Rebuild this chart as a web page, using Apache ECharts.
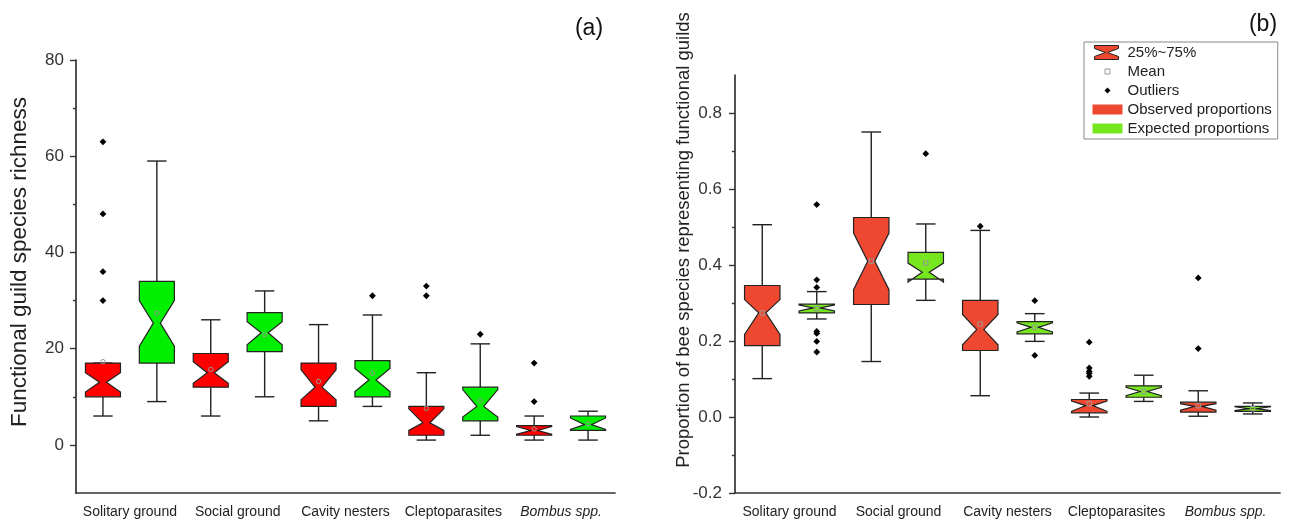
<!DOCTYPE html>
<html>
<head>
<meta charset="utf-8">
<script src="https://cdn.jsdelivr.net/npm/echarts@6/dist/echarts.min.js"></script>
<style>html,body{margin:0;padding:0;background:#fff;}#c{width:1298px;height:522px;}</style>
</head>
<body>
<div id="c"></div>
<script>
// ---------- DATA ----------
const categories = ['Solitary ground', 'Social ground', 'Cavity nesters', 'Cleptoparasites', 'Bombus spp.'];

// Panel (a): functional guild species richness
const richYTicks = [0, 20, 40, 60, 80];
const richObsLow    = [6, 6, 5, 1, 1];
const richObsQ1     = [10, 12, 8, 2, 2];
const richObsMed    = [13, 15, 12, 4.6, 3];
const richObsQ3     = [17, 19, 17, 8, 4];
const richObsHigh   = [17, 26, 25, 15, 6];
const richObsNotchLo = [11, 12.8, 9.4, 3, 2.2];
const richObsNotchHi = [15, 17.3, 15.6, 7.5, 3.8];
const richObsMean   = [17.3, 15.7, 13.2, 7.6, 3.3];
const richObsOut    = [[63, 48, 36, 30], [], [], [33, 31], [17, 9]];

const richExpLow    = [9, 10, 8, 2, 1];
const richExpQ1     = [17, 19.4, 10, 5, 3];
const richExpMed    = [25.3, 23.3, 13.5, 8, 4.2];
const richExpQ3     = [34, 27.5, 17.5, 12, 6];
const richExpHigh   = [59, 32, 27, 21, 7];
const richExpNotchLo = [20.5, 20.8, 11.1, 5.8, 3.2];
const richExpNotchHi = [30, 25.6, 15.9, 11.5, 5.6];
const richExpMean   = [27.4, 22.9, 14.9, 9.2, 4.4];
const richExpOut    = [[], [], [31], [23], []];

// Panel (b): proportion of bee species
const propYTicks = [-0.2, 0, 0.2, 0.4, 0.6, 0.8];
const propObsLow    = [0.101, 0.146, 0.056, 0.0, 0.002];
const propObsQ1     = [0.188, 0.296, 0.175, 0.011, 0.013];
const propObsMed    = [0.274, 0.41, 0.23, 0.03, 0.028];
const propObsQ3     = [0.346, 0.525, 0.307, 0.046, 0.039];
const propObsHigh   = [0.506, 0.75, 0.491, 0.063, 0.069];
const propObsNotchLo = [0.217, 0.335, 0.19, 0.015, 0.018];
const propObsNotchHi = [0.309, 0.484, 0.27, 0.042, 0.035];
const propObsMean   = [0.274, 0.41, 0.245, 0.035, 0.03];
const propObsOut    = [[], [], [0.502], [0.197, 0.129, 0.12, 0.115, 0.107], [0.366, 0.18]];

const propExpLow    = [0.258, 0.307, 0.199, 0.041, 0.008];
const propExpQ1     = [0.274, 0.363, 0.219, 0.052, 0.015];
const propExpMed    = [0.287, 0.381, 0.236, 0.067, 0.022];
const propExpQ3     = [0.297, 0.433, 0.251, 0.082, 0.028];
const propExpHigh   = [0.33, 0.508, 0.272, 0.11, 0.037];
const propExpNotchLo = [0.279, 0.355, 0.224, 0.056, 0.017];
const propExpNotchHi = [0.295, 0.405, 0.248, 0.078, 0.027];
const propExpMean   = [0.285, 0.405, 0.236, 0.067, 0.022];
const propExpOut    = [[0.559, 0.361, 0.341, 0.225, 0.22, 0.199, 0.171], [0.693], [0.306, 0.162], [], []];

// ---------- STYLE ----------
const FONT = '"Liberation Sans", Arial, Helvetica, sans-serif';
const RED_A = '#FF0000', GREEN_A = '#00F000';
const RED_B = '#EE4830', GREEN_B = '#76E61E';
const INK = '#222';
const AXIS = '#333';

function boxData(low, q1, med, q3, high, nlo, nhi) {
  return categories.map((c, i) => [i, low[i], q1[i], med[i], q3[i], high[i], nlo[i], nhi[i]]);
}
function meanData(arr, side) { return arr.map((v, i) => [i, v, side]); }
function outData(arr, side) {
  const d = [];
  arr.forEach((list, i) => list.forEach(v => d.push([i, v, side])));
  return d;
}

function boxRender(color, side) {
  return function (params, api) {
    const i = api.value(0);
    const bw = api.size([1, 0])[0];
    const cx = api.coord([i, 0])[0] + side * bw / 4;
    const w = bw * 0.325, cap = bw * 0.18, waist = w * 0.1;
    const y = v => api.coord([i, v])[1];
    const yl = y(api.value(1)), yq1 = y(api.value(2)), ym = y(api.value(3)),
          yq3 = y(api.value(4)), yh = y(api.value(5)), ynl = y(api.value(6)), ynh = y(api.value(7));
    const xl = cx - w / 2, xr = cx + w / 2;
    const ls = { stroke: INK, lineWidth: 1.4 };
    return {
      type: 'group',
      children: [
        { type: 'line', shape: { x1: cx, y1: yh, x2: cx, y2: yq3 }, style: ls },
        { type: 'line', shape: { x1: cx, y1: yq1, x2: cx, y2: yl }, style: ls },
        { type: 'line', shape: { x1: cx - cap / 2, y1: yh, x2: cx + cap / 2, y2: yh }, style: ls },
        { type: 'line', shape: { x1: cx - cap / 2, y1: yl, x2: cx + cap / 2, y2: yl }, style: ls },
        {
          type: 'polygon',
          shape: { points: [[xl, yq3], [xl, ynh], [cx - waist, ym], [xl, ynl], [xl, yq1], [xr, yq1], [xr, ynl], [cx + waist, ym], [xr, ynh], [xr, yq3]] },
          style: { fill: color, stroke: INK, lineWidth: 1.2 }
        }
      ]
    };
  };
}
function meanRender(shape) {
  return function (params, api) {
    const i = api.value(0);
    const bw = api.size([1, 0])[0];
    const p = api.coord([i, api.value(1)]);
    const cx = p[0] + api.value(2) * bw / 4;
    if (shape === 'circle') {
      return { type: 'circle', shape: { cx: cx, cy: p[1], r: 2.2 }, style: { fill: 'none', stroke: '#999', lineWidth: 1 } };
    }
    return { type: 'rect', shape: { x: cx - 2.2, y: p[1] - 2.2, width: 4.4, height: 4.4 }, style: { fill: 'none', stroke: '#999', lineWidth: 1 } };
  };
}
function outRender(params, api) {
  const i = api.value(0);
  const bw = api.size([1, 0])[0];
  const p = api.coord([i, api.value(1)]);
  const cx = p[0] + api.value(2) * bw / 4, cy = p[1], r = 3.4;
  return { type: 'polygon', shape: { points: [[cx, cy - r], [cx + r, cy], [cx, cy + r], [cx - r, cy]] }, style: { fill: '#000' } };
}

// ---------- LAYOUT (grids) ----------
// panel a: frame grid 0 (y -10..80), tick grid 1 (y 0..80)
// panel b: frame grid 2 (y -0.2..0.9), tick grid 3 (y -0.2..0.8)
const A = { left: 76, top: 60, width: 539, height: 433 };
const B = { left: 735, top: 75, width: 545, height: 418 };
const aTickH = A.height * 80 / 90;
const bTickH = B.height * 1.0 / 1.1;

const catAxis = (gi) => ({
  type: 'category', gridIndex: gi, data: categories.map(c => c === 'Bombus spp.' ? { value: c, textStyle: { fontStyle: 'italic' } } : c),
  boundaryGap: true,
  axisLine: { show: true, onZero: false, lineStyle: { color: AXIS, width: 1.7 } },
  axisTick: { show: false },
  axisLabel: { fontFamily: FONT, fontSize: 14, color: INK, margin: 12, interval: 0 },
  splitLine: { show: false }
});
const hiddenX = (gi) => ({ type: 'category', gridIndex: gi, data: categories, show: false });

const option = {
  animation: false,
  backgroundColor: '#fff',
  grid: [
    { left: A.left, top: A.top, width: A.width, height: A.height, containLabel: false, outerBoundsMode: 'none' },
    { left: A.left, top: A.top, width: A.width, height: aTickH, containLabel: false, outerBoundsMode: 'none' },
    { left: B.left, top: B.top, width: B.width, height: B.height, containLabel: false, outerBoundsMode: 'none' },
    { left: B.left, top: B.top + B.height - bTickH, width: B.width, height: bTickH, containLabel: false, outerBoundsMode: 'none' }
  ],
  xAxis: [catAxis(0), hiddenX(1), catAxis(2), hiddenX(3)],
  yAxis: [
    { type: 'value', gridIndex: 0, min: -10, max: 80, axisLine: { show: true, onZero: false, lineStyle: { color: AXIS, width: 1.7 } }, axisTick: { show: false }, axisLabel: { show: false }, splitLine: { show: false } },
    { type: 'value', gridIndex: 1, min: richYTicks[0], max: richYTicks[richYTicks.length - 1], interval: richYTicks[1] - richYTicks[0],
      axisLine: { show: false, onZero: false }, axisTick: { show: true, length: 6, lineStyle: { color: AXIS, width: 1.4 } },
      minorTick: { show: true, splitNumber: 2, length: 3, lineStyle: { color: AXIS, width: 1.4 } },
      axisLabel: { fontFamily: FONT, fontSize: 17, color: '#333', margin: 12 }, splitLine: { show: false } },
    { type: 'value', gridIndex: 2, min: -0.2, max: 0.9, axisLine: { show: true, onZero: false, lineStyle: { color: AXIS, width: 1.7 } }, axisTick: { show: false }, axisLabel: { show: false }, splitLine: { show: false } },
    { type: 'value', gridIndex: 3, min: propYTicks[0], max: propYTicks[propYTicks.length - 1], interval: 0.2,
      axisLine: { show: false, onZero: false }, axisTick: { show: true, length: 6, lineStyle: { color: AXIS, width: 1.4 } },
      minorTick: { show: true, splitNumber: 2, length: 3, lineStyle: { color: AXIS, width: 1.4 } },
      axisLabel: { fontFamily: FONT, fontSize: 17, color: '#333', margin: 13, formatter: v => v.toFixed(1) }, splitLine: { show: false } }
  ],
  legend: {
    orient: 'vertical', left: 1084, top: 42, itemWidth: 30, itemHeight: 14, itemGap: 4,
    padding: [3, 6, 3, 8], borderColor: '#888', borderWidth: 1, selectedMode: false,
    textStyle: { fontFamily: FONT, fontSize: 15, color: INK },
    data: [
      { name: '25%~75%', icon: 'path://M0,0 M30,14 M2,0 L26,0 L26,3 L15,7 L26,11 L26,14 L2,14 L2,11 L13,7 L2,3 Z', itemStyle: { color: RED_B, borderColor: INK, borderWidth: 1 } },
      { name: 'Mean', icon: 'path://M0,0 M30,14 M12.5,4.5 L17.5,4.5 L17.5,9.5 L12.5,9.5 Z', itemStyle: { color: '#fff', borderColor: '#999', borderWidth: 1 } },
      { name: 'Outliers', icon: 'path://M0,0 M30,14 M15,4 L18,7 L15,10 L12,7 Z', itemStyle: { color: '#000', borderWidth: 0 } },
      { name: 'Observed proportions', icon: 'path://M0,0 M30,14 M0,2 L30,2 L30,12 L0,12 Z', itemStyle: { color: RED_B, borderWidth: 0 } },
      { name: 'Expected proportions', icon: 'path://M0,0 M30,14 M0,2 L30,2 L30,12 L0,12 Z', itemStyle: { color: GREEN_B, borderWidth: 0 } }
    ]
  },
  graphic: [
    { type: 'text', x: 20, y: 262, rotation: Math.PI / 2, style: { text: 'Functional guild species richness', font: '22.5px ' + FONT, fill: INK, textAlign: 'center', textVerticalAlign: 'middle' } },
    { type: 'text', x: 684, y: 240, rotation: Math.PI / 2, style: { text: 'Proportion of bee species representing functional guilds', font: '18.5px ' + FONT, fill: INK, textAlign: 'center', textVerticalAlign: 'middle' } },
    { type: 'text', x: 589, y: 29, style: { text: '(a)', font: '23px ' + FONT, fill: '#111', textAlign: 'center', textVerticalAlign: 'middle' } },
    { type: 'text', x: 1263, y: 25, style: { text: '(b)', font: '23px ' + FONT, fill: '#111', textAlign: 'center', textVerticalAlign: 'middle' } }
  ],
  series: [
    // panel a
    { type: 'custom', name: 'obsA', xAxisIndex: 0, yAxisIndex: 0, renderItem: boxRender(RED_A, -1), encode: { x: 0, y: [1, 2, 3, 4, 5] }, data: boxData(richObsLow, richObsQ1, richObsMed, richObsQ3, richObsHigh, richObsNotchLo, richObsNotchHi), z: 2 },
    { type: 'custom', name: 'expA', xAxisIndex: 0, yAxisIndex: 0, renderItem: boxRender(GREEN_A, 1), encode: { x: 0, y: [1, 2, 3, 4, 5] }, data: boxData(richExpLow, richExpQ1, richExpMed, richExpQ3, richExpHigh, richExpNotchLo, richExpNotchHi), z: 2 },
    { type: 'custom', name: 'Mean', xAxisIndex: 0, yAxisIndex: 0, renderItem: meanRender('circle'), encode: { x: 0, y: 1 }, data: meanData(richObsMean, -1).concat(meanData(richExpMean, 1)), z: 3 },
    { type: 'custom', name: 'Outliers', xAxisIndex: 0, yAxisIndex: 0, renderItem: outRender, encode: { x: 0, y: 1 }, data: outData(richObsOut, -1).concat(outData(richExpOut, 1)), z: 3 },
    // panel b
    { type: 'custom', name: '25%~75%', xAxisIndex: 2, yAxisIndex: 2, renderItem: () => null, data: [] },
    { type: 'custom', name: 'Observed proportions', xAxisIndex: 2, yAxisIndex: 2, renderItem: boxRender(RED_B, -1), encode: { x: 0, y: [1, 2, 3, 4, 5] }, data: boxData(propObsLow, propObsQ1, propObsMed, propObsQ3, propObsHigh, propObsNotchLo, propObsNotchHi), z: 2 },
    { type: 'custom', name: 'Expected proportions', xAxisIndex: 2, yAxisIndex: 2, renderItem: boxRender(GREEN_B, 1), encode: { x: 0, y: [1, 2, 3, 4, 5] }, data: boxData(propExpLow, propExpQ1, propExpMed, propExpQ3, propExpHigh, propExpNotchLo, propExpNotchHi), z: 2 },
    { type: 'custom', name: 'Mean', xAxisIndex: 2, yAxisIndex: 2, renderItem: meanRender('rect'), encode: { x: 0, y: 1 }, data: meanData(propObsMean, -1).concat(meanData(propExpMean, 1)), z: 3 },
    { type: 'custom', name: 'Outliers', xAxisIndex: 2, yAxisIndex: 2, renderItem: outRender, encode: { x: 0, y: 1 }, data: outData(propObsOut, -1).concat(outData(propExpOut, 1)), z: 3 }
  ]
};

const chart = echarts.init(document.getElementById('c'), null, { renderer: 'canvas' });
chart.setOption(option);
</script>
</body>
</html>
